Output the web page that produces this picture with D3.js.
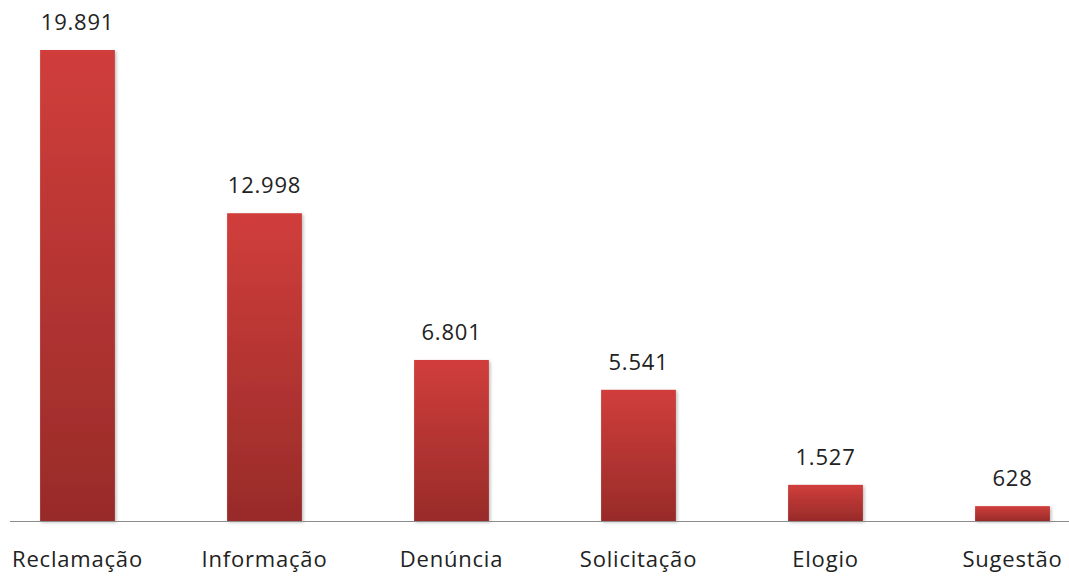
<!DOCTYPE html>
<html>
<head>
<meta charset="utf-8">
<script src="https://cdn.jsdelivr.net/npm/d3@7"></script>
<style>
    body { margin: 0; background: #fff; }
    text { font-family: "Open Sans", "Noto Sans", sans-serif; fill: #222; }
</style>
</head>
<body>
<svg id="chart"></svg>
<script>
var categories = ["Reclamação", "Informação", "Denúncia", "Solicitação", "Elogio", "Sugestão"];
var values = [19891, 12998, 6801, 5541, 1527, 628];
var valueLabels = ["19.891", "12.998", "6.801", "5.541", "1.527", "628"];

var width = 1069,
    height = 576,
    baseline = 521;

var svg = d3.select("#chart")
    .attr("width", width)
    .attr("height", height);

var defs = svg.append("defs");

var grad = defs.append("linearGradient")
    .attr("id", "barGrad")
    .attr("x1", 0).attr("y1", 0)
    .attr("x2", 0).attr("y2", 1);
grad.append("stop").attr("offset", "0%").attr("stop-color", "#d03e3b");
grad.append("stop").attr("offset", "100%").attr("stop-color", "#982b29");

var shadow = defs.append("filter")
    .attr("id", "shadow")
    .attr("x", "-20%").attr("y", "-20%")
    .attr("width", "140%").attr("height", "140%");
shadow.append("feDropShadow")
    .attr("dx", 1.5).attr("dy", 1.5)
    .attr("stdDeviation", 1.5)
    .attr("flood-color", "#000")
    .attr("flood-opacity", 0.25);

var x = d3.scaleBand()
    .domain(categories)
    .range([-16, 1106])
    .paddingInner(0.6)
    .paddingOuter(0.3);

var y = d3.scaleLinear()
    .domain([0, 19891])
    .range([baseline, 50]);

svg.selectAll(".bar")
    .data(values)
    .enter().append("rect")
    .attr("class", "bar")
    .attr("x", function (d, i) { return x(categories[i]); })
    .attr("y", function (d) { return y(d); })
    .attr("width", x.bandwidth())
    .attr("height", function (d) { return baseline - y(d); })
    .style("fill", "url(#barGrad)")
    .attr("filter", "url(#shadow)");

// axis line
svg.append("line")
    .attr("x1", 10).attr("x2", width)
    .attr("y1", baseline + 0.5).attr("y2", baseline + 0.5)
    .attr("stroke", "#8c8c8c")
    .attr("stroke-width", 1.2);

svg.selectAll(".val")
    .data(values)
    .enter().append("text")
    .attr("class", "val")
    .attr("x", function (d, i) { return x(categories[i]) + x.bandwidth() / 2; })
    .attr("y", function (d) { return y(d) - 20; })
    .attr("text-anchor", "middle")
    .style("font-size", "22px")
    .style("letter-spacing", "0.8px")
    .text(function (d, i) { return valueLabels[i]; });

svg.selectAll(".cat")
    .data(categories)
    .enter().append("text")
    .attr("class", "cat")
    .attr("x", function (d) { return x(d) + x.bandwidth() / 2; })
    .attr("y", 567)
    .attr("text-anchor", "middle")
    .style("font-size", "22px")
    .style("letter-spacing", "0.8px")
    .text(function (d) { return d; });
</script>
</body>
</html>
